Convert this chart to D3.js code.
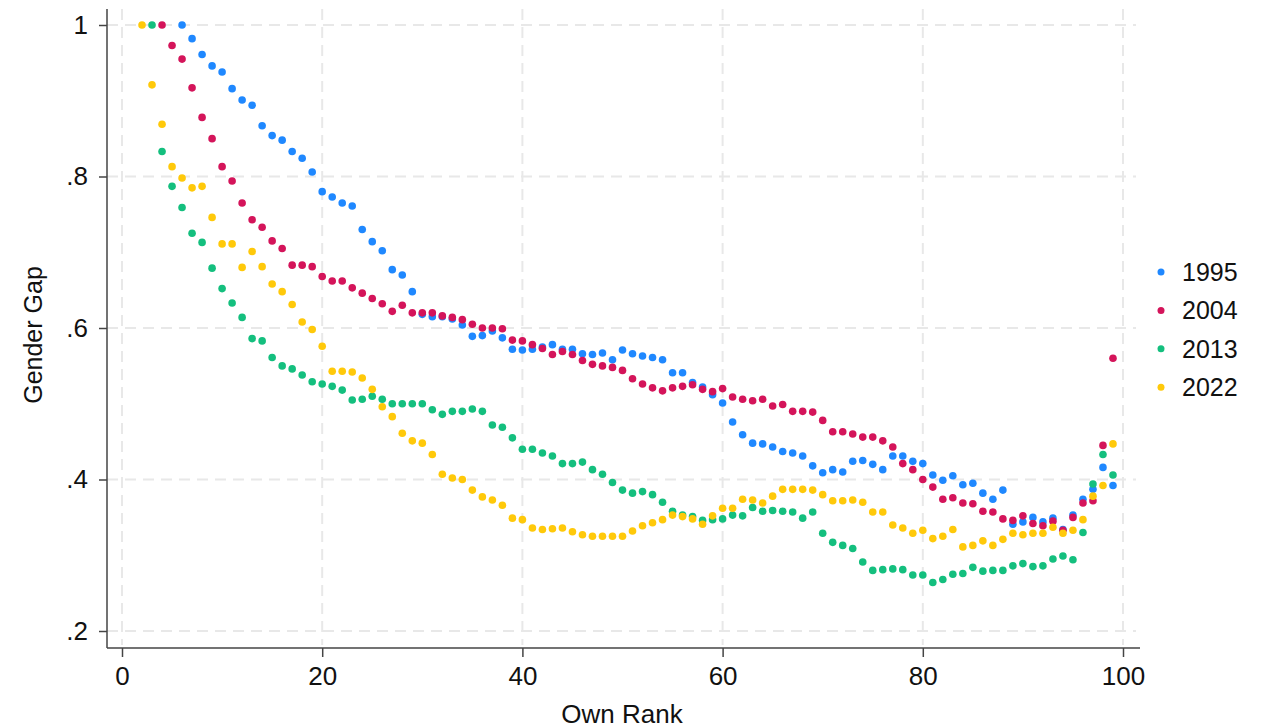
<!DOCTYPE html>
<html><head><meta charset="utf-8">
<script src="https://cdn.jsdelivr.net/npm/d3@7"></script>
<style>body{margin:0;background:#fff}svg{display:block}text{font-family:"Liberation Sans",Arial,sans-serif;fill:#111}</style>
</head><body><svg id="c" width="1263" height="728"></svg>
<script>
const years = ["1995","2004","2013","2022"];
const colors = ["#1f88ff","#d4145a","#14bf7e","#ffc90a"];
const xTicks = [0,20,40,60,80,100];
const yTicks = [0.2,0.4,0.6,0.8,1];
const yTickLabels = [".2",".4",".6",".8","1"];
// series: start rank + consecutive values
const start1995 = 6;
const vals1995 = [1.0,.982,.961,.946,.938,.916,.901,.894,.867,.854,.848,.833,.824,.806,.780,.773,.765,.761,.730,
 .714,.702,.677,.670,.648,.618,.615,.615,.612,.604,.589,.590,.596,.587,.572,.571,.572,.575,.578,.572,.572,.566,.565,.567,.558,
 .571,.566,.563,.561,.558,.541,.541,.528,.522,.512,.501,.476,.459,.448,.447,.443,.437,.435,.431,.418,.409,.413,.410,.424,.425,.420,
 .413,.431,.431,.424,.421,.406,.399,.405,.393,.395,.382,.374,.386,.341,.344,.350,.344,.349,.334,.353,.374,.387,.416,.392];
const start2004 = 4;
const vals2004 = [1.0,.973,.955,.917,.878,.850,.813,.794,.765,.743,.733,.715,.705,.683,.683,.681,.668,.662,.662,.653,.646,
 .639,.632,.622,.630,.620,.620,.620,.616,.614,.611,.605,.600,.600,.599,.584,.583,.578,.573,.565,.569,.565,.557,.552,.550,.548,
 .544,.533,.526,.521,.517,.521,.523,.525,.519,.516,.520,.509,.506,.504,.506,.497,.499,.490,.490,.489,.478,.463,.463,.460,.456,.456,
 .451,.443,.421,.413,.400,.390,.374,.376,.369,.368,.358,.357,.348,.346,.352,.342,.339,.345,.333,.350,.369,.372,.445,.560];
const start2013 = 3;
const vals2013 = [1.0,.833,.787,.759,.725,.713,.679,.652,.633,.614,.586,.583,.561,.550,.546,.538,.529,.526,.523,.518,.505,
 .506,.510,.506,.500,.500,.500,.500,.492,.486,.490,.490,.493,.490,.472,.469,.455,.440,.440,.435,.431,.421,.421,.423,.413,.407,.396,
 .386,.382,.384,.380,.370,.358,.353,.351,.346,.347,.348,.353,.352,.363,.358,.359,.358,.357,.349,.357,.329,.317,.313,.309,.291,.280,
 .281,.282,.281,.274,.274,.264,.268,.275,.276,.284,.279,.280,.280,.286,.289,.285,.286,.295,.299,.294,.330,.394,.433,.406];
const start2022 = 2;
const vals2022 = [1.0,.921,.869,.813,.798,.785,.787,.746,.711,.711,.680,.701,.681,.658,.648,.631,.608,.598,.576,.543,.543,.542,
 .534,.519,.496,.483,.461,.451,.448,.433,.407,.402,.400,.386,.377,.373,.366,.349,.347,.336,.334,.335,.336,.331,.327,.325,.325,.325,
 .325,.332,.339,.343,.347,.353,.351,.348,.341,.352,.362,.362,.374,.373,.369,.378,.387,.387,.387,.386,.380,.372,.372,.373,.370,.357,
 .357,.340,.336,.329,.333,.322,.325,.334,.311,.313,.319,.313,.321,.329,.327,.329,.329,.337,.329,.333,.347,.378,.392,.447];

const series = [[start1995,vals1995],[start2004,vals2004],[start2013,vals2013],[start2022,vals2022]].map(([s,v],i)=>({
  year: years[i], color: colors[i], pts: v.map((d,j)=>({r: s+j, v: d}))
}));

const svg = d3.select("#c");
const x = d3.scaleLinear().domain([0,100]).range([122,1123]);
const y = d3.scaleLinear().domain([0.2,1]).range([631,25]);
const xMin = x.invert(107), xMax = x.invert(1140), yMin = y.invert(648), yMax = y.invert(9);

// grid
const g = svg.append("g");
g.selectAll(".gy").data(yTicks).join("line")
  .attr("x1", x(xMin)).attr("x2", x(xMax)-4).attr("y1", d=>y(d)).attr("y2", d=>y(d))
  .attr("stroke","#e8e8e8").attr("stroke-width",2).attr("stroke-dasharray","11,7");
g.selectAll(".gx").data(xTicks).join("line")
  .attr("y1", y(yMax)).attr("y2", y(yMin)-3).attr("x1", d=>x(d)).attr("x2", d=>x(d))
  .attr("stroke","#e8e8e8").attr("stroke-width",2).attr("stroke-dasharray","11,7");

// axes
const xa = svg.append("g").attr("transform",`translate(0,${y(yMin)})`)
  .call(d3.axisBottom(x).tickValues(xTicks).tickSize(9).tickPadding(10).tickSizeOuter(0));
const ya = svg.append("g").attr("transform",`translate(${x(xMin)},0)`)
  .call(d3.axisLeft(y).tickValues(yTicks).tickFormat((d,i)=>yTickLabels[i]).tickSize(8).tickPadding(11).tickSizeOuter(0));
[xa,ya].forEach(a=>{
  a.select(".domain").remove();
  a.selectAll(".tick line").attr("stroke","#444").attr("stroke-width",1.5);
  a.selectAll(".tick text").attr("font-size",26).attr("fill","#111").style("font-family","Liberation Sans, Arial, sans-serif");
});
svg.append("line").attr("x1",x(xMin)).attr("x2",x(xMax)).attr("y1",y(yMin)).attr("y2",y(yMin)).attr("stroke","#444").attr("stroke-width",1.5);
svg.append("line").attr("x1",x(xMin)).attr("x2",x(xMin)).attr("y1",y(yMin)).attr("y2",y(yMax)).attr("stroke","#444").attr("stroke-width",1.5);

// labels
svg.append("text").attr("x",622).attr("y",723).attr("text-anchor","middle").attr("font-size",26).text("Own Rank");
svg.append("text").attr("transform","translate(42,335) rotate(-90)").attr("text-anchor","middle").attr("font-size",25).text("Gender Gap");

// points
series.forEach(s=>{
  svg.append("g").selectAll("circle").data(s.pts).join("circle")
    .attr("cx", d=>x(d.r)).attr("cy", d=>y(d.v)).attr("r",3.8).attr("fill", s.color);
});

// legend
const lg = svg.append("g");
series.forEach((s,i)=>{
  const yy = 272 + i*38.4;
  lg.append("circle").attr("cx",1161).attr("cy",yy).attr("r",3.5).attr("fill",s.color);
  lg.append("text").attr("x",1182).attr("y",yy+9).attr("font-size",25).text(s.year);
});
</script></body></html>
